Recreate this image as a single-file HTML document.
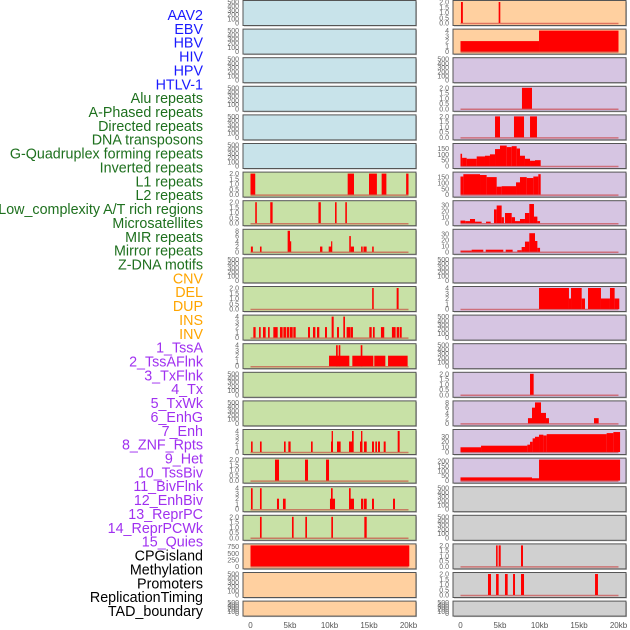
<!DOCTYPE html>
<html><head><meta charset="utf-8"><style>
html,body{margin:0;padding:0;background:#fff;width:630px;height:630px;overflow:hidden}
svg{display:block}
</style></head><body>
<svg id="chart" width="630" height="630" xmlns="http://www.w3.org/2000/svg" font-family="Liberation Sans, sans-serif"></svg>
<script>
// ---------- data ----------
const trackLabels=["AAV2","EBV","HBV","HIV","HPV","HTLV-1","Alu repeats","A-Phased repeats","Directed repeats","DNA transposons","G-Quadruplex forming repeats","Inverted repeats","L1 repeats","L2 repeats","Low_complexity A/T rich regions","Microsatellites","MIR repeats","Mirror repeats","Z-DNA motifs","CNV","DEL","DUP","INS","INV","1_TssA","2_TssAFlnk","3_TxFlnk","4_Tx","5_TxWk","6_EnhG","7_Enh","8_ZNF_Rpts","9_Het","10_TssBiv","11_BivFlnk","12_EnhBiv","13_ReprPC","14_ReprPCWk","15_Quies","CPGisland","Methylation","Promoters","ReplicationTiming","TAD_boundary"];
const labelGroups=[6,13,5,15,5];
const groupColors=["#1a1aff","#1e701e","#ffa500","#a030f0","#000000"];
const xTickLabels=["0","5kb","10kb","15kb","20kb"];
const xTickValues=[0,5,10,15,20];
const leftBg=["lb","lb","lb","lb","lb","lb","gr","gr","gr","gr","gr","gr","gr","gr","gr","gr","gr","gr","gr","pe","pe","pe"];
const rightBg=["pe","pe","pu","pu","pu","pu","pu","pu","pu","pu","pu","pu","pu","pu","pu","pu","pu","gy","gy","gy","gy","gy"];
const leftMax=[0,0,0,0,0,0,2,2,8,0,2,4,4,0,0,4,2,4,2,800,0,0];
const rightMax=[2,4,0,2,2,180,180,35,35,0,4,0,0,2,8,40,215,0,0,2,2,0];
const leftTicks=[null,null,null,null,null,null,[0,0.5,1,1.5,2],[0,0.5,1,1.5,2],[0,2,4,6,8],null,[0,0.5,1,1.5,2],[0,1,2,3,4],[0,1,2,3,4],null,null,[0,1,2,3,4],[0,0.5,1,1.5,2],[0,1,2,3,4],[0,0.5,1,1.5,2],[0,250,500,750],null,null];
const rightTicks=[[0,0.5,1,1.5,2],[0,1,2,3,4],null,[0,0.5,1,1.5,2],[0,0.5,1,1.5,2],[0,50,100,150],[0,50,100,150],[0,10,20,30],[0,10,20,30],null,[0,1,2,3,4],null,null,[0,0.5,1,1.5,2],[0,2,4,6,8],[0,10,20,30],[0,50,100,150,200],null,null,[0,0.5,1,1.5,2],[0,0.5,1,1.5,2],null];
// segments: [startKb, endKb, value]
const L6=[[0,0.6,2],[12.3,13.1,2],[15.0,16.0,2],[16.6,17.2,2],[19.7,20.0,2]];
const L7=[[0.6,0.8,2],[2.5,2.8,2],[8.6,8.9,2],[10.7,10.9,2],[12.0,12.2,2]];
const L8=[[0.05,0.3,2],[1.2,1.4,2],[4.7,5.0,8],[5.0,5.1,4],[8.8,9.1,2],[9.9,10.3,2],[10.2,10.3,4],[12.5,12.7,6],[12.7,13.1,2],[14.0,14.2,2],[14.3,14.7,2],[15.4,15.6,2]];
const L10=[[15.4,15.6,2],[18.5,18.75,2]];
const L11=[[0.36,0.65,2],[1.08,1.29,2],[1.58,1.92,2],[2.22,2.43,2],[2.89,3.44,2],[3.73,4.07,2],[4.16,4.49,2],[4.58,4.92,2],[5.0,5.34,2],[5.42,5.72,2],[7.28,7.53,2],[7.91,8.21,2],[8.42,8.71,2],[9.43,9.68,2],[10.27,10.53,4],[10.95,11.2,2],[11.75,11.96,4],[12.17,12.68,2],[12.72,12.97,2],[15.04,15.34,2],[15.5,15.72,2],[16.51,16.93,2],[17.9,18.37,2],[18.5,18.84,2],[18.92,19.14,2]];
const L12=[[9.94,12.51,2],[10.83,11.04,4],[11.16,11.37,4],[12.89,15.55,2],[13.95,14.16,4],[15.67,17.07,2],[17.41,19.89,2]];
const L15=[[0.07,0.27,2],[1.2,1.41,2],[4.24,4.45,2],[4.79,5.08,2],[7.66,7.87,2],[10.19,10.44,2],[10.27,10.44,4],[10.95,11.41,2],[12.47,12.93,2],[12.85,13.06,4],[13.86,14.16,2],[13.99,14.16,4],[14.37,14.71,2],[15.38,15.63,2],[15.8,16.01,2],[16.14,16.39,2],[16.86,17.11,2],[18.63,18.88,4]];
const L16=[[3.1,3.61,2],[6.9,7.28,2],[9.56,9.94,2]];
const L17=[[0.06,0.27,4],[1.2,1.41,4],[3.35,3.61,2],[4.11,4.45,2],[10.06,10.7,2],[10.19,10.4,4],[12.47,13.1,2],[12.47,12.68,4],[13.99,14.28,2],[14.37,14.71,2],[15.38,15.63,2],[18.04,18.29,2]];
const L18=[[1.2,1.41,2],[5.25,5.46,2],[6.94,7.15,2],[10.23,10.44,2],[14.41,14.71,2]];
const L19=[[0,20.1,800]];
const R0=[[0.06,0.3,2],[4.83,5.04,2]];
const R1=[[0,9.94,2],[9.94,20.0,4]];
const R3=[[7.78,9.05,2]];
const R4=[[4.37,5.0,2],[6.77,8.04,2],[8.8,9.68,2]];
const R5=[[0,0.2,105],[0.2,0.78,70],[0.78,2.05,62],[2.05,3.1,82],[3.1,3.73,88],[3.73,4.37,100],[4.37,5.0,145],[5.0,5.85,175],[5.85,6.48,162],[6.48,7.11,170],[7.11,7.53,150],[7.53,8.16,88],[8.16,8.8,62],[8.8,9.43,45],[9.43,10.15,50]];
const R6=[[0,0.36,155],[0.36,2.47,175],[2.47,3.31,168],[3.31,4.58,150],[4.58,5.21,68],[5.21,7.03,72],[7.03,7.53,105],[7.53,8.38,150],[8.38,9.22,142],[9.22,9.85,155],[9.85,10.15,175]];
const R7=[[0,0.6,4.4],[0.6,1.2,3.5],[1.2,1.84,7],[1.84,2.68,2.6],[3.23,3.82,2.6],[4.24,4.58,23],[4.58,5.21,29.5],[5.21,5.5,10],[5.63,6.48,17],[6.48,6.9,10],[6.9,7.53,3.5],[7.53,8.16,7],[8.16,8.71,17],[8.71,9.3,32],[9.3,9.73,11],[9.73,10.07,3.5]];
const R8=[[0,1.41,2],[1.41,2.89,3.5],[3.19,5.42,3.5],[5.72,6.6,3.5],[7.19,7.74,2.6],[7.74,8.16,8],[8.16,8.71,17],[8.71,9.43,31],[9.43,9.73,18],[9.73,10.07,6.6]];
const R10=[[9.94,13.73,4],[13.73,13.99,2],[13.99,15.34,4],[15.34,15.76,2],[16.14,17.78,4],[17.78,18.92,2],[18.92,19.51,4],[19.51,20.1,2]];
const R13=[[8.8,9.26,2]];
const R14=[[8.54,9.05,2],[9.05,9.43,6],[9.43,10.19,8],[10.19,10.82,4],[10.82,11.2,2],[16.9,17.49,2]];
const R15=[[0,2.6,9],[2.6,8.46,12],[8.46,8.8,14],[8.8,9.13,19.5],[9.13,9.43,26],[9.43,9.94,29],[9.94,10.49,33],[10.49,10.91,31.5],[10.91,18.5,34],[18.5,19.35,36],[19.35,20.2,38]];
const R16=[[0,9.05,33],[9.05,9.94,24],[9.94,20.2,215]];
const R19=[[4.5,4.7,2],[4.83,5.09,2],[7.66,7.91,2]];
const R20=[[3.48,3.86,2],[4.5,4.83,2],[5.63,5.97,2],[6.65,6.9,2],[7.66,8.04,2],[17.03,17.4,2]];
const leftData={6:L6,7:L7,8:L8,10:L10,11:L11,12:L12,15:L15,16:L16,17:L17,18:L18,19:L19};
const rightData={0:R0,1:R1,3:R3,4:R4,5:R5,6:R6,7:R7,8:R8,10:R10,13:R13,14:R14,15:R15,16:R16,19:R19,20:R20};

// ---------- rendering ----------
const NS="http://www.w3.org/2000/svg";
const svg=document.getElementById('chart');
const bgColors={lb:"#c8e3ea",gr:"#c8e1a6",pe:"#ffd0a0",pu:"#d6c5e2",gy:"#d0d0d0"};
const cols=[{px:243,x0:250.5},{px:453,x0:460.5}];
const PW=173, KB=7.9;
function rowTop(i){return 0.5+i*28.6;}
function rowH(i){return i===21?15:25;}
function xScale(col,kb){return cols[col].x0+kb*KB;}
function yScale(i,v,max){const t=rowTop(i),h=rowH(i);return (t+h-2.5)-(v/max)*(h-4);}
function mk(tag,attrs,parent){const e=document.createElementNS(NS,tag);for(const k in attrs)e.setAttribute(k,attrs[k]);(parent||svg).appendChild(e);return e;}
function fmt(v,ticks){const frac=ticks.some(t=>t%1!==0);return frac?v.toFixed(1):String(v);}

// labels
let idx=0;
labelGroups.forEach((n,g)=>{for(let k=0;k<n;k++){
  const t=mk('text',{x:203,y:20+idx*13.86,'text-anchor':'end','font-size':14.3,fill:groupColors[g]});
  
  
  t.textContent=trackLabels[idx];idx++;}});

function drawPanel(col,i,bg,max,ticks,segs){
  const g=mk('g',{});
  
  
  const t=rowTop(i),h=rowH(i),px=cols[col].px;
  mk('rect',{x:px+1,y:t+1,width:PW,height:h,fill:'#bbb'},g);
  mk('rect',{x:px,y:t,width:PW,height:h,fill:bgColors[bg],stroke:'#555','stroke-width':1},g);
  let tk=ticks, m=max;
  if(!tk){tk=[0,100,200,300,400,500];m=500;}
  tk.forEach(v=>{
    const tt=mk('text',{x:px-4,y:yScale(i,v,m)+2.5,'text-anchor':'end','font-size':7,fill:'#666'},g);
    
    
    tt.textContent=fmt(v,tk);
  });
  if(segs){
    const base=yScale(i,0,m);
    segs.forEach(s=>{
      const x1=xScale(col,s[0]),x2=xScale(col,s[1]),y=yScale(i,s[2],m);
      const r=mk('rect',{x:x1,y:Math.max(y,t+0.5),width:Math.max(x2-x1,1.2),height:base-Math.max(y,t+0.5),fill:'#ff0000'},g);
      
      
    });
    mk('line',{x1:xScale(col,0),x2:xScale(col,20),y1:base+0.5,y2:base+0.5,stroke:'rgba(200,40,40,0.55)','stroke-width':1.5},g);
  }
}
for(let i=0;i<22;i++){
  drawPanel(0,i,leftBg[i],leftMax[i],leftTicks[i],leftData[i]);
  drawPanel(1,i,rightBg[i],rightMax[i],rightTicks[i],rightData[i]);
}
[0,1].forEach(col=>{
  xTickValues.forEach((v,k)=>{
    const t=mk('text',{x:xScale(col,v),y:628,'text-anchor':'middle','font-size':8,fill:'#555'});
    
    
    t.textContent=xTickLabels[k];
  });
});
</script>
</body></html>
